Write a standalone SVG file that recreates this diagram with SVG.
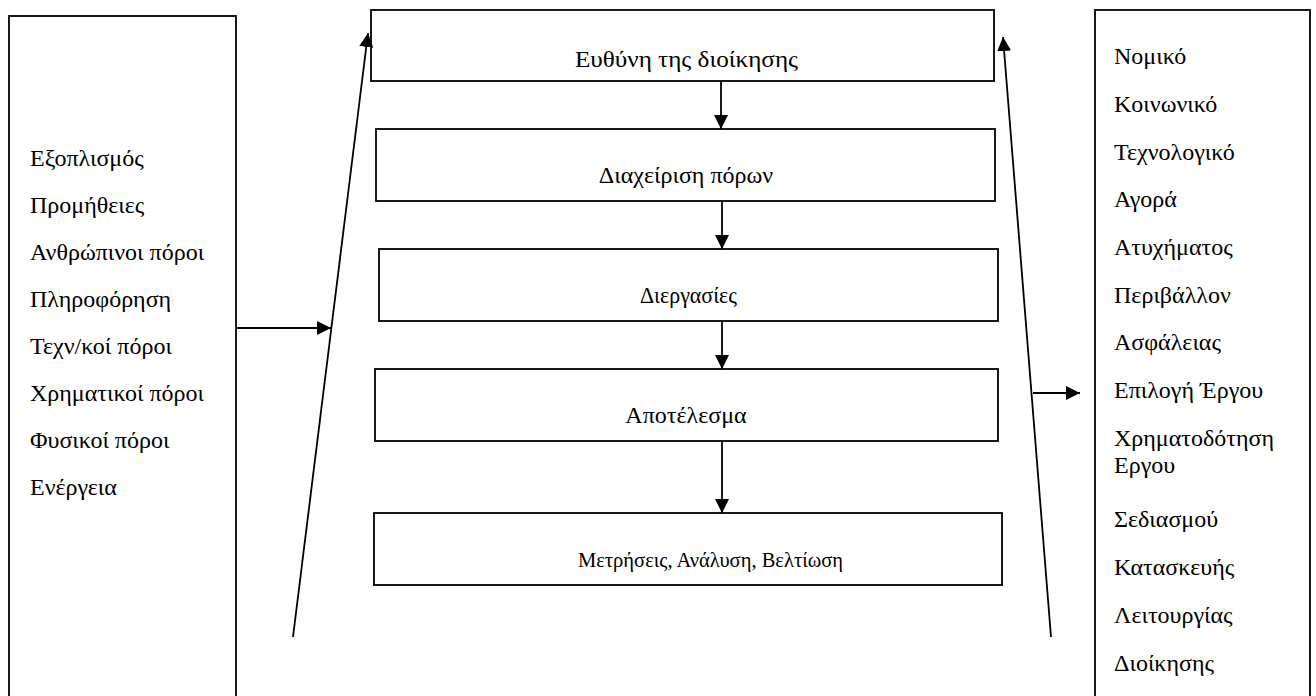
<svg xmlns="http://www.w3.org/2000/svg" width="1316" height="696" viewBox="0 0 1316 696">
<style>
.box{fill:#fff;stroke:#000;stroke-width:1.8}
.ln{fill:none;stroke:#000;stroke-width:1.8}
text{font-family:"Liberation Serif","Times New Roman",serif;font-size:24px;fill:#000}
.c{text-anchor:middle}
</style>
<defs>
<marker id="ah" markerUnits="userSpaceOnUse" markerWidth="16" markerHeight="16" refX="14" refY="7" orient="auto">
<path d="M0,0 L14,7 L0,14 Z" fill="#000"/>
</marker>
</defs>
<rect width="1316" height="696" fill="#fff"/>
<g id="inputs">
<rect class="box" x="9" y="16" width="227" height="700"/>
<text x="30" y="166">Εξοπλισμός</text>
<text x="30" y="213">Προμήθειες</text>
<text x="30" y="260">Ανθρώπινοι πόροι</text>
<text x="30" y="307">Πληροφόρηση</text>
<text x="30" y="354">Τεχν/κοί πόροι</text>
<text x="30" y="401">Χρηματικοί πόροι</text>
<text x="30" y="448">Φυσικοί πόροι</text>
<text x="30" y="495">Ενέργεια</text>
</g>
<g id="outputs">
<rect class="box" x="1095" y="10" width="215" height="700"/>
<text x="1114" y="64">Νομικό</text>
<text x="1114" y="112">Κοινωνικό</text>
<text x="1114" y="160">Τεχνολογικό</text>
<text x="1114" y="207">Αγορά</text>
<text x="1114" y="255">Ατυχήματος</text>
<text x="1114" y="303">Περιβάλλον</text>
<text x="1114" y="350">Ασφάλειας</text>
<text x="1114" y="398">Επιλογή Έργου</text>
<text x="1114" y="446">Χρηματοδότηση</text>
<text x="1114" y="473">Εργου</text>
<text x="1114" y="527">Σεδιασμού</text>
<text x="1114" y="575">Κατασκευής</text>
<text x="1114" y="623">Λειτουργίας</text>
<text x="1114" y="671">Διοίκησης</text>
</g>
<g id="n1">
<rect class="box" x="371" y="10" width="623" height="71"/>
<text x="575" y="67" textLength="223" lengthAdjust="spacingAndGlyphs">Ευθύνη της διοίκησης</text>
</g>
<g id="n2">
<rect class="box" x="376" y="129" width="619" height="72"/>
<text class="c" x="686" y="183">Διαχείριση πόρων</text>
</g>
<g id="n3">
<rect class="box" x="379" y="249" width="619" height="72"/>
<text x="640" y="303" textLength="97" lengthAdjust="spacingAndGlyphs">Διεργασίες</text>
</g>
<g id="n4">
<rect class="box" x="375" y="369" width="623" height="72"/>
<text class="c" x="686" y="423">Αποτέλεσμα</text>
</g>
<g id="n5">
<rect class="box" x="374" y="513" width="628" height="72"/>
<text x="578" y="567" style="font-size:22px" textLength="265" lengthAdjust="spacingAndGlyphs">Μετρήσεις, Ανάλυση, Βελτίωση</text>
</g>
<g id="connectors">
<line class="ln" x1="721" y1="81" x2="721" y2="129" marker-end="url(#ah)"/>
<line class="ln" x1="722" y1="201" x2="722" y2="249" marker-end="url(#ah)"/>
<line class="ln" x1="722" y1="321" x2="722" y2="369" marker-end="url(#ah)"/>
<line class="ln" x1="722" y1="441" x2="722" y2="513" marker-end="url(#ah)"/>
<line class="ln" x1="293" y1="637" x2="368" y2="33" marker-end="url(#ah)"/>
<line class="ln" x1="1051" y1="637" x2="1003" y2="37" marker-end="url(#ah)"/>
<line class="ln" x1="236" y1="328" x2="331" y2="328" marker-end="url(#ah)"/>
<line class="ln" x1="1033" y1="393" x2="1080" y2="393" marker-end="url(#ah)"/>
</g>
</svg>
